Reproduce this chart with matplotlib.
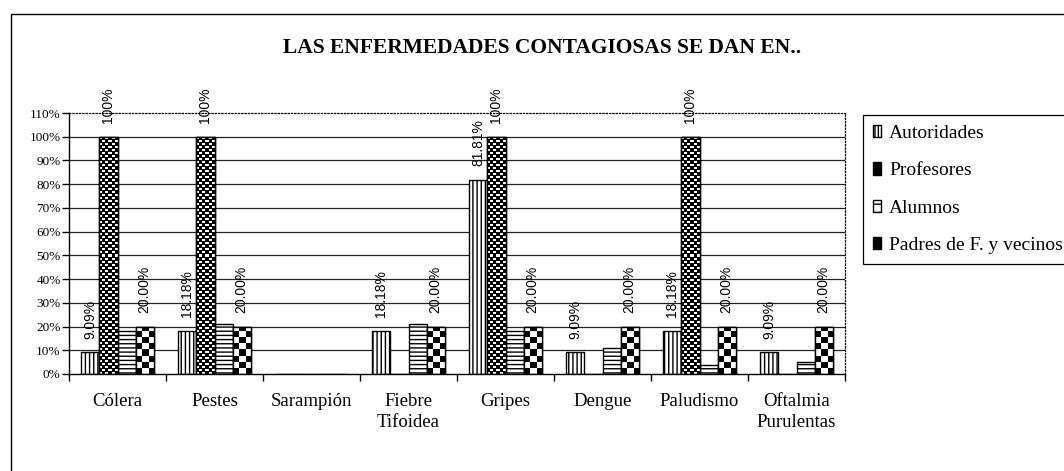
import numpy as np
import matplotlib.pyplot as plt
from matplotlib.patches import Rectangle, Patch

plt.rcParams['font.family'] = ['Liberation Serif', 'DejaVu Serif']
plt.rcParams['hatch.linewidth'] = 1.0

categories = ['Cólera', 'Pestes', 'Sarampión', 'Fiebre\nTifoidea', 'Gripes',
              'Dengue', 'Paludismo', 'Oftalmia\nPurulentas']
series_names = ['Autoridades', 'Profesores', 'Alumnos', 'Padres de F. y vecinos']
autoridades = [9.09, 18.18, 0, 18.18, 81.81, 9.09, 18.18, 9.09]
profesores = [100, 100, 0, 0, 100, 0, 100, 0]
alumnos = [18, 21, 0, 21, 18, 11, 4, 5]
padres = [20, 20, 0, 20, 20, 20, 20, 20]

W, H = 1064, 471
fig = plt.figure(figsize=(W / 100, H / 100), dpi=100)
ax = fig.add_axes([69 / W, 97 / H, 776 / W, 261 / H])

x = np.arange(len(categories))
bw = 0.186
off = (np.arange(4) - 1.5) * bw

ax.set_xlim(-0.5, len(categories) - 0.5)
ax.set_ylim(0, 110)
ax.set_axisbelow(True)

b_aut = ax.bar(x + off[0], autoridades, bw, facecolor='white', edgecolor='black',
               hatch='||||', lw=1, zorder=2)
b_prof = ax.bar(x + off[1], profesores, bw, facecolor='black', edgecolor='black',
                lw=1, zorder=2)
b_alu = ax.bar(x + off[2], alumnos, bw, facecolor='white', edgecolor='black',
               hatch='----', lw=1, zorder=2)
b_pad = ax.bar(x + off[3], padres, bw, facecolor='white', edgecolor='black',
               lw=1, zorder=2)

# pixels per data unit, used to size the fill textures
p0, p1 = ax.transData.transform([[0, 0], [1, 1]])
px_x, px_y = p1 - p0


def dots(h, w):
    r, c = np.indices((h, w))
    r, c = r % 6, c % 6
    return (((r < 2) & (c < 3)) | ((r >= 3) & (r < 5) & (c >= 3))).astype(float)


def checker(h, w, cell=6):
    r, c = np.indices((h, w))
    return ((r // cell + c // cell) % 2).astype(float)


def texture(bars, pattern):
    for rect in bars:
        h = rect.get_height()
        if h <= 0:
            continue
        x0, w = rect.get_x(), rect.get_width()
        arr = pattern(max(1, int(round(h * px_y))), max(1, int(round(w * px_x))))
        im = ax.imshow(arr, extent=(x0, x0 + w, 0, h), origin='lower', cmap='gray',
                       vmin=0, vmax=1, interpolation='nearest', aspect='auto', zorder=2.1)
        im.set_clip_path(rect)
        ax.add_patch(Rectangle((x0, 0), w, h, fill=False, edgecolor='black',
                               lw=1, zorder=2.2))


texture(b_prof, dots)
texture(b_pad, checker)

ax.set_xlim(-0.5, len(categories) - 0.5)
ax.set_ylim(0, 110)

# value labels
for bars, vals, fmt in [(b_aut, autoridades, '{:.2f}%'),
                        (b_prof, profesores, '{:.0f}%'),
                        (b_pad, padres, '{:.2f}%')]:
    for rect, v in zip(bars, vals):
        if v > 0:
            ax.annotate(fmt.format(v), (rect.get_x() + rect.get_width() / 2, v),
                        xytext=(0, 10), textcoords='offset points', rotation=90,
                        ha='center', va='bottom', fontsize=10,
                        family='Liberation Sans', zorder=3, annotation_clip=False)

# axes and grid
yt = np.arange(0, 111, 10)
ax.set_yticks(yt, [f'{v}%' for v in yt], fontsize=9.5)
ax.set_xticks(x, categories, fontsize=13.5, linespacing=1.3)
ax.set_xticks(np.arange(len(categories) + 1) - 0.5, minor=True)
ax.tick_params(axis='x', which='major', length=0, pad=14)
ax.tick_params(axis='x', which='minor', length=5, width=1, direction='out')
ax.tick_params(axis='y', length=5, width=1, pad=1)
ax.yaxis.grid(True, color='#222222', lw=0.9)
ax.get_ygridlines()[-1].set_visible(False)
ax.get_ygridlines()[0].set_visible(False)
for s in ['top', 'right']:
    ax.spines[s].set_linestyle(':')
    ax.spines[s].set_linewidth(0.9)
for s in ['left', 'bottom']:
    ax.spines[s].set_linewidth(1)

fig.text(542 / W, 1 - 48 / H, 'LAS ENFERMEDADES CONTAGIOSAS SE DAN EN..',
         ha='center', va='center', fontsize=15.5, weight='bold')

handles = [Patch(facecolor='white', edgecolor='black', hatch='|||||'),
           Patch(facecolor='black', edgecolor='black'),
           Patch(facecolor='white', edgecolor='black', hatch='--'),
           Patch(facecolor='black', edgecolor='black')]
leg = fig.legend(handles, series_names, loc='upper left',
                 bbox_to_anchor=(863 / W, 1 - 115 / H), borderaxespad=0,
                 fancybox=False, edgecolor='black', framealpha=1,
                 prop={'size': 14}, handlelength=0.45, handleheight=0.6,
                 handletextpad=0.4, labelspacing=1.05, borderpad=0.5)
leg.get_frame().set_linewidth(0.9)

# outer chart border
fig.add_artist(Rectangle((11 / W, -0.05), 1.0, 1 - 14 / H + 0.05,
                         transform=fig.transFigure, fill=False,
                         edgecolor='black', lw=1))

fig.savefig('out.png', dpi=100)
